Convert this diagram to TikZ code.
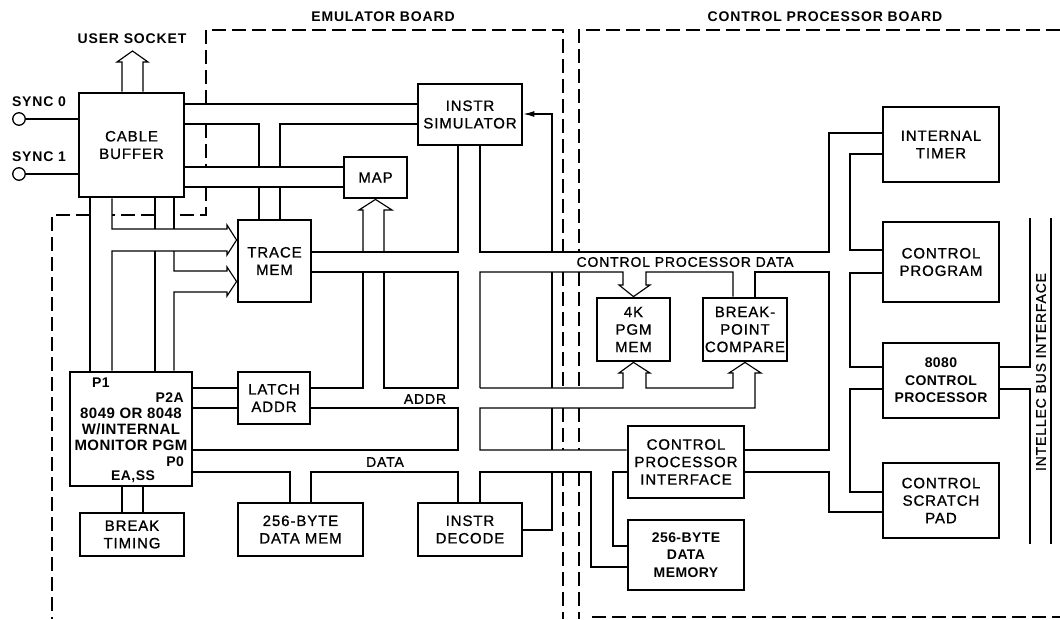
\documentclass[tikz,border=0pt]{standalone}
\usepackage{fontspec}
\setmainfont{Liberation Sans}
\newfontfamily\ftA{Liberation Sans}[LetterSpace=6, FakeBold=0.9]
\newfontfamily\ftT{Liberation Sans}[LetterSpace=6]
\newfontfamily\ftB{Liberation Sans}[LetterSpace=3]
\usetikzlibrary{arrows.meta}
\begin{document}
\begin{tikzpicture}[x=1pt,y=-1pt,line join=miter,
  box/.style={draw, line width=2.8pt, inner sep=0pt, align=center, font=\ftA\fontsize{15}{17.5}\selectfont},
  bbox/.style={box, font=\ftB\bfseries\fontsize{14}{17.5}\selectfont},
  wire/.style={line width=1.15pt},
  bnd/.style={line width=1.15pt, dash pattern=on 14pt off 6pt},
  title/.style={inner sep=0pt, font=\ftT\bfseries\fontsize{14}{16}\selectfont},
  buslbl/.style={inner sep=0pt, font=\ftA\fontsize{14}{16}\selectfont},
  plbl/.style={inner sep=0pt, font=\ftB\bfseries\fontsize{14}{16}\selectfont},
  sync/.style={draw, circle, line width=1.3pt, minimum size=12.5pt, inner sep=0pt}
]
\useasboundingbox[fill=white] (0,0) rectangle (1060,619);

% ---------- boxes ----------
\node[box, minimum width=105pt, minimum height=104pt] (cb) at (131.5,145) {CABLE\\BUFFER};
\node[box, minimum width=73pt, minimum height=82pt] (trace) at (274.5,261) {TRACE\\MEM};
\node[box, minimum width=104pt, minimum height=61pt] (sim) at (470,114.5) {INSTR\\SIMULATOR};
\node[box, minimum width=63pt, minimum height=41pt] (map) at (375.5,177.5) {MAP};
\node[box, minimum width=122pt, minimum height=114pt, font=\ftB\bfseries\fontsize{15}{16}\selectfont] (cpu49) at (131,429) {8049 OR 8048\\W/INTERNAL\\MONITOR PGM};
\node[box, minimum width=104pt, minimum height=43pt] (brk) at (132,534.5) {BREAK\\TIMING};
\node[box, minimum width=72pt, minimum height=52pt] (latch) at (274,398) {LATCH\\ADDR};
\node[box, minimum width=125pt, minimum height=53pt] (dmem) at (300.5,529.5) {256-BYTE\\DATA MEM};
\node[box, minimum width=104pt, minimum height=53pt] (dec) at (470,529.5) {INSTR\\DECODE};
\node[box, minimum width=73pt, minimum height=63pt] (pgm) at (633.5,329.5) {4K\\PGM\\MEM};
\node[box, minimum width=84pt, minimum height=63pt] (bp) at (745,329.5) {BREAK-\\POINT\\COMPARE};
\node[box, minimum width=116pt, minimum height=72pt] (cpi) at (686,462) {CONTROL\\PROCESSOR\\INTERFACE};
\node[bbox, minimum width=116pt, minimum height=70pt] (dmem2) at (686,555) {256-BYTE\\DATA\\MEMORY};
\node[box, minimum width=116pt, minimum height=75pt] (timer) at (941,144.5) {INTERNAL\\TIMER};
\node[box, minimum width=116pt, minimum height=80pt] (prog) at (941,262) {CONTROL\\PROGRAM};
\node[bbox, minimum width=116pt, minimum height=75pt] (cpu80) at (941,380.5) {8080\\CONTROL\\PROCESSOR};
\node[box, minimum width=116pt, minimum height=75pt] (pad) at (941,500.5) {CONTROL\\SCRATCH\\PAD};

% ---------- labels ----------
\node[title] (temu) at (383,17) {EMULATOR BOARD};
\node[title] (tcpb) at (825,17) {CONTROL PROCESSOR BOARD};
\node[title] (tuser) at (132,39) {USER SOCKET};
\node[title] (tsync0) at (39,102) {SYNC 0};
\node[title] (tsync1) at (39,157) {SYNC 1};
\node[buslbl] (lcpd) at (685,262) {CONTROL PROCESSOR DATA};
\node[buslbl] (laddr) at (425,399) {ADDR};
\node[buslbl] (ldata) at (385,462) {DATA};
\node[buslbl, rotate=90] (lib) at (1041,372) {INTELLEC BUS INTERFACE};
\node[plbl, anchor=west] (p1) at (92,383) {P1};
\node[plbl, anchor=east] (p2a) at (184,398) {P2A};
\node[plbl, anchor=east] (p0) at (184,462) {P0};
\node[plbl] (eass) at (133,477) {EA,SS};

% ---------- sync inputs ----------
\node[sync] (s0) at (19,119) {};
\node[sync] (s1) at (19,174) {};
\draw[wire] (s0.east) -- (cb.west |- s0.east);
\draw[wire] (s1.east) -- (cb.west |- s1.east);

% user socket hollow arrow
\draw[wire] (122,0 |- cb.north) -- (122,62) -- (117,62) -- (132.5,51) -- (148,62) -- (143,62) -- (143,0 |- cb.north);

% cable buffer -> instr simulator / trace mem
\draw[wire] (cb.east |- 0,104) -- (sim.west |- 0,104);
\draw[wire] (cb.east |- 0,124) -- (259,124) -- (259,167);
\draw[wire] (sim.west |- 0,124) -- (280,124) -- (280,167);
\draw[wire] (259,187) -- (259,0 |- trace.north);
\draw[wire] (280,187) -- (280,0 |- trace.north);
% cable buffer -> map
\draw[wire] (cb.east |- 0,167) -- (map.west |- 0,167);
\draw[wire] (cb.east |- 0,187) -- (map.west |- 0,187);

% cable buffer -> 8049 P1 and trace mem
\draw[wire] (90,0 |- cb.south) -- (90,0 |- cpu49.north);
\draw[wire] (112,0 |- cb.south) -- (112,229) -- (227,229) -- (227,225) -- (trace.west |- 0,240) -- (227,255) -- (227,251) -- (112,251) -- (112,0 |- cpu49.north);
\draw[wire] (155,0 |- cb.south) -- (155,229);
\draw[wire] (155,251) -- (155,0 |- cpu49.north);
\draw[wire] (174,0 |- cb.south) -- (174,229);
\draw[wire] (174,251) -- (174,271) -- (227,271) -- (227,267) -- (trace.west |- 0,281.5) -- (227,296) -- (227,292) -- (174,292) -- (174,0 |- cpu49.north);

% 8049 -> break timing, latch
\draw[wire] (122,0 |- cpu49.south) -- (122,0 |- brk.north);
\draw[wire] (143,0 |- cpu49.south) -- (143,0 |- brk.north);
\draw[wire] (cpu49.east |- 0,388) -- (latch.west |- 0,388);
\draw[wire] (cpu49.east |- 0,408) -- (latch.west |- 0,408);

% control processor data bus
\draw[wire] (trace.east |- 0,252) -- (458,252) -- (458,0 |- sim.south);
\draw[wire] (480,0 |- sim.south) -- (480,252) -- (829,252) -- (829,133) -- (timer.west |- 0,133);
\draw[wire] (trace.east |- 0,272) -- (458,272) -- (458,388) -- (384,388) -- (384,272);
\draw[wire] (363,272) -- (363,388) -- (latch.east |- 0,388);
\draw[wire] (363,252) -- (363,210) -- (359,210) -- (map.south) -- (392,210) -- (384,210) -- (384,252);
\draw[wire] (480,388) -- (480,272) -- (623,272) -- (623,285) -- (619,285) -- (pgm.north) -- (650,285) -- (646,285) -- (646,272) -- (733,272) -- (733,0 |- bp.north);
\draw[wire] (755,0 |- bp.north) -- (755,272) -- (829,272) -- (829,450) -- (cpi.east |- 0,450);

% address bus
\draw[wire] (480,388) -- (623,388) -- (623,373) -- (619,373) -- (pgm.south) -- (650,373) -- (646,373) -- (646,388) -- (733,388) -- (733,373) -- (729,373) -- (bp.south) -- (761,373) -- (755,373) -- (755,408) -- (480,408) -- (480,450) -- (cpi.west |- 0,450);
\draw[wire] (latch.east |- 0,408) -- (458,408) -- (458,450) -- (cpu49.east |- 0,450);

% data bus
\draw[wire] (cpu49.east |- 0,472) -- (290,472) -- (290,0 |- dmem.north);
\draw[wire] (311,0 |- dmem.north) -- (311,472) -- (458,472) -- (458,0 |- dec.north);
\draw[wire] (480,0 |- dec.north) -- (480,472) -- (591,472) -- (591,567) -- (dmem2.west |- 0,567);
\draw[wire] (cpi.west |- 0,472) -- (613,472) -- (613,546) -- (dmem2.west |- 0,546);

% instr decode -> instr simulator
\draw[wire] (dec.east |- 0,530) -- (552,530) -- (552,472);
\draw[wire] (552,450) -- (552,408);
\draw[wire] (552,388) -- (552,272);
\draw[wire,-{Latex[length=11pt,width=6pt]}] (552,252) -- (552,114) -- (sim.east |- 0,114);

% control processor board bus
\draw[wire] (timer.west |- 0,154) -- (850,154) -- (850,250) -- (prog.west |- 0,250);
\draw[wire] (prog.west |- 0,273) -- (850,273) -- (850,367) -- (cpu80.west |- 0,367);
\draw[wire] (cpu80.west |- 0,389) -- (850,389) -- (850,492) -- (pad.west |- 0,492);
\draw[wire] (cpi.east |- 0,472) -- (829,472) -- (829,512) -- (pad.west |- 0,512);
\draw[wire] (1030,218) -- (1030,367) -- (cpu80.east |- 0,367);
\draw[wire] (cpu80.east |- 0,389) -- (1030,389) -- (1030,544);
\draw[wire] (1051,218) -- (1051,544);

% ---------- board boundaries ----------
\draw[bnd] (206,104) -- (206,30) -- (563,30) -- (563,252);
\draw[bnd] (206,124) -- (206,167);
\draw[bnd] (206,187) -- (206,215) -- (174,215);
\draw[bnd] (155,215) -- (112,215);
\draw[bnd] (90,215) -- (52,215) -- (52,619);
\draw[bnd] (563,272) -- (563,388);
\draw[bnd] (563,408) -- (563,450);
\draw[bnd] (563,472) -- (563,619);
\draw[bnd] (1060,30) -- (579,30) -- (579,252);
\draw[bnd] (579,272) -- (579,388);
\draw[bnd] (579,408) -- (579,450);
\draw[bnd] (579,472) -- (579,619);
\draw[bnd] (592,617) -- (1060,617);
\end{tikzpicture}
\end{document}
